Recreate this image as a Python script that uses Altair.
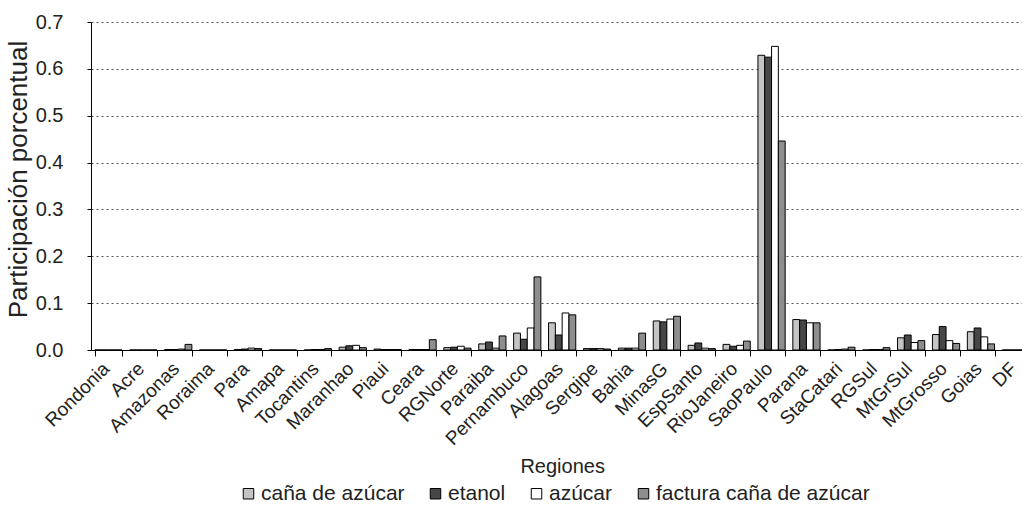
import altair as alt
import pandas as pd

categories = ["Rondonia", "Acre", "Amazonas", "Roraima", "Para", "Amapa", "Tocantins",
              "Maranhao", "Piaui", "Ceara", "RGNorte", "Paraiba", "Pernambuco", "Alagoas",
              "Sergipe", "Bahia", "MinasG", "EspSanto", "RioJaneiro", "SaoPaulo", "Parana",
              "StaCatari", "RGSul", "MtGrSul", "MtGrosso", "Goias", "DF"]

series_names = ["caña de azúcar", "etanol", "azúcar", "factura caña de azúcar"]

cana = [0, 0, 0.001, 0, 0.001, 0, 0, 0.006, 0.002, 0.001, 0.005, 0.013, 0.036, 0.058,
        0.003, 0.004, 0.062, 0.010, 0.012, 0.629, 0.065, 0, 0, 0.026, 0.033, 0.039, 0]
etanol = [0, 0, 0.001, 0, 0.002, 0, 0.001, 0.009, 0.001, 0.001, 0.006, 0.017, 0.023, 0.032,
          0.003, 0.004, 0.060, 0.015, 0.008, 0.625, 0.064, 0.001, 0.001, 0.032, 0.050, 0.047, 0]
azucar = [0, 0, 0.002, 0, 0.004, 0, 0.001, 0.010, 0.001, 0.001, 0.008, 0.004, 0.047, 0.079,
          0.003, 0.004, 0.066, 0.004, 0.010, 0.648, 0.058, 0.002, 0.001, 0.016, 0.020, 0.028, 0]
factura = [0, 0, 0.012, 0, 0.003, 0, 0.003, 0.005, 0.001, 0.022, 0.004, 0.030, 0.156, 0.075,
           0.002, 0.036, 0.072, 0.003, 0.019, 0.446, 0.058, 0.006, 0.005, 0.020, 0.014, 0.013, 0]

colors = ["#c4c4c4", "#474747", "#ffffff", "#8e8e8e"]

rows = []
for name, vals in zip(series_names, [cana, etanol, azucar, factura]):
    for c, v in zip(categories, vals):
        rows.append({"Region": c, "Serie": name, "Valor": v})
df = pd.DataFrame(rows)

FONT = "Liberation Sans"
step = 34.9
full_range = step * len(categories)

chart = alt.Chart(df).mark_bar(stroke="black", strokeWidth=1).encode(
    x=alt.X("Region:N", sort=categories,
            scale=alt.Scale(range=[0, full_range], paddingInner=0.22, paddingOuter=0.11),
            axis=alt.Axis(title="Regiones", labelAngle=-45, labelFontSize=19,
                          labelColor="#222", titleFontSize=20, titleFontWeight="normal",
                          titleColor="#222", titleY=106, tickBand="extent", tickSize=6,
                          domainColor="black", tickColor="black", labelPadding=3,
                          labelOffset=-9, labelFont=FONT, titleFont=FONT)),
    xOffset=alt.XOffset("Serie:N", sort=series_names, scale=alt.Scale(paddingInner=0)),
    y=alt.Y("Valor:Q",
            scale=alt.Scale(domain=[0, 0.7], nice=False),
            axis=alt.Axis(title="Participación porcentual", values=[0, 0.1, 0.2, 0.3, 0.4, 0.5, 0.6, 0.7],
                          format=".1f", labelFontSize=20, labelColor="#222",
                          titleFontSize=26, titleFontWeight="normal", titleColor="#222",
                          titleX=-73, titleY=157, titleBaseline="middle",
                          tickSize=4, labelPadding=24, domainColor="black", tickColor="black",
                          gridColor="#555", gridDash=[2, 3], gridWidth=1,
                          labelFont=FONT, titleFont=FONT)),
    color=alt.Color("Serie:N", sort=series_names,
                    scale=alt.Scale(domain=series_names, range=colors),
                    legend=alt.Legend(title=None, orient="none", direction="horizontal",
                                      legendX=147, legendY=461, symbolType="square",
                                      symbolSize=110, symbolStrokeColor="black",
                                      symbolStrokeWidth=1, labelFontSize=21, labelFont=FONT,
                                      labelColor="#222", columnPadding=20, labelOffset=2,
                                      labelLimit=0)),
).properties(
    width=931, height=328,
    autosize=alt.AutoSizeParams(type="none"),
    padding={"left": 91, "top": 22, "right": 0, "bottom": 158},
).configure_view(stroke=None).configure_axisX(grid=False)

chart.save("out.html", embed_options={"renderer": "svg", "actions": False})
